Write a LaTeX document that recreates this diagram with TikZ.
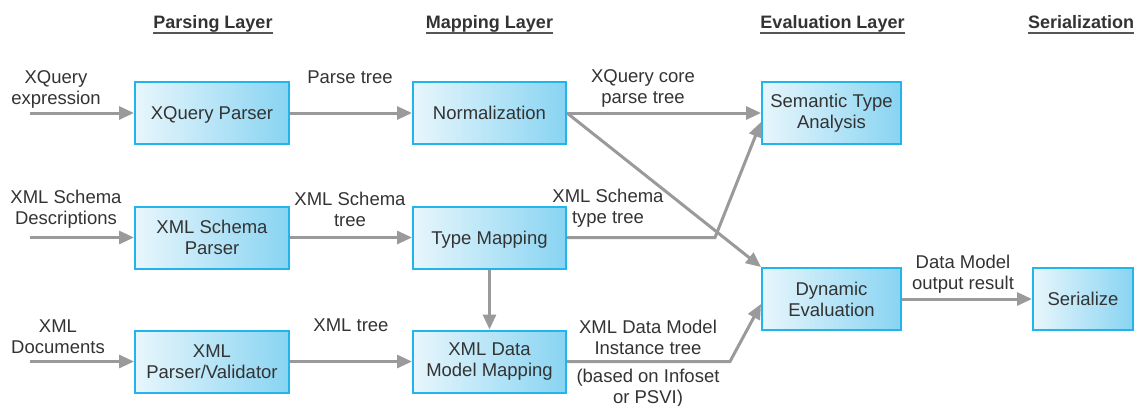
\documentclass[tikz,border=0pt]{standalone}
\usepackage{fontspec}
\setmainfont{Liberation Sans}
\usetikzlibrary{arrows.meta,calc}
\definecolor{boxedge}{HTML}{22B5EC}
\definecolor{boxl}{HTML}{E8F6FC}
\definecolor{boxr}{HTML}{88D4F2}
\definecolor{arr}{HTML}{9A9A9C}
\definecolor{txt}{HTML}{333333}
\definecolor{ulc}{HTML}{555555}
\newcommand{\bodyfont}{\fontsize{18.5}{21}\selectfont}
\newcommand{\hdrfont}{\bfseries\fontsize{18}{21}\selectfont}
\tikzset{
  box/.style={draw=boxedge, line width=2pt, left color=boxl, right color=boxr,
    inner sep=0pt, align=center, text=txt, font=\bodyfont},
  oneline/.style={text height=13.3pt, text depth=0pt},
  lab/.style={align=center, text=txt, font=\bodyfont, inner sep=0pt},
  hdr/.style={font=\hdrfont, text=txt, anchor=base, inner sep=0pt},
  ul/.style={draw=ulc, line width=1.6pt},
  flow/.style={draw=arr, line width=3pt, -{Triangle[length=15pt,width=13pt]}},
}
\begin{document}
\begin{tikzpicture}[x=1pt,y=-1pt]
\useasboundingbox (0,0) rectangle (1147,405);

% headers
\node[hdr] (h1) at (213,28) {Parsing Layer};
\node[hdr] (h2) at (489.5,28) {Mapping Layer};
\node[hdr] (h3) at (832.5,28) {Evaluation Layer};
\node[hdr] (h4) at (1081,28) {Serialization};
\foreach \h in {h1,h2,h3,h4}
  \draw[ul] ([yshift=-5pt]\h.base west) -- ([yshift=-5pt]\h.base east);

% boxes
\node[box, oneline, minimum width=154pt, minimum height=62pt] (xqp) at (212,113) {XQuery Parser};
\node[box, minimum width=154pt, minimum height=62pt] (xsp) at (212,237.5) {XML Schema\\Parser};
\node[box, minimum width=154pt, minimum height=62pt] (xpv) at (212,361.5) {XML\\Parser/Validator};
\node[box, oneline, minimum width=153pt, minimum height=62pt] (norm) at (489.5,113) {Normalization};
\node[box, oneline, minimum width=153pt, minimum height=62pt] (tm) at (489.5,237.5) {Type Mapping};
\node[box, minimum width=153pt, minimum height=62pt] (xdm) at (489.5,361.5) {XML Data\\Model Mapping};
\node[box, minimum width=139pt, minimum height=62pt] (sta) at (831.5,113) {Semantic Type\\Analysis};
\node[box, minimum width=139pt, minimum height=62pt] (dyn) at (831.5,299) {Dynamic\\Evaluation};
\node[box, oneline, minimum width=100pt, minimum height=62pt] (ser) at (1083,299) {Serialize};

% free ends and bends
\coordinate (in1) at (30,113);
\coordinate (in2) at (30,237.5);
\coordinate (in3) at (30,361.5);
\coordinate (b1) at (715,237.5);
\coordinate (b2) at (730,361.5);

% labels
\node[lab] (l1) at (56,89) {XQuery\\expression};
\node[lab] (l2) at (66,209) {XML Schema\\Descriptions};
\node[lab] (l3) at (58,337) {XML\\Documents};
\node[lab, anchor=base] (l4) at (350,83) {Parse tree};
\node[lab] (l5) at (350,209) {XML Schema\\tree};
\node[lab, anchor=base] (l6) at (351,331) {XML tree};
\node[lab] (l7) at (643,88) {XQuery core\\parse tree};
\node[lab] (l8) at (608,208) {XML Schema\\type tree};
\node[lab] (l9) at (648,337) {XML Data Model\\Instance tree};
\node[lab] (l10) at (648,388) {(based on Infoset\\or PSVI)};
\node[lab] (l11) at (963,274) {Data Model\\output result};

% connectors
\draw[flow] (in1) -- (xqp.west);
\draw[flow] (in2) -- (xsp.west);
\draw[flow] (in3) -- (xpv.west);
\draw[flow] (xqp.east) -- (norm.west);
\draw[flow] (xsp.east) -- (tm.west);
\draw[flow] (xpv.east) -- (xdm.west);
\draw[flow] (tm.south) -- (xdm.north);
\draw[flow] (norm.east) -- (sta.west);
\draw[flow] (norm.east) -- (dyn.north west);
\draw[flow] (tm.east) -- (b1) -- ([yshift=-9pt]sta.west);
\draw[flow] (xdm.east) -- (b2) -- ([yshift=-5pt]dyn.west);
\draw[flow] (dyn.east) -- (ser.west);
\end{tikzpicture}
\end{document}
